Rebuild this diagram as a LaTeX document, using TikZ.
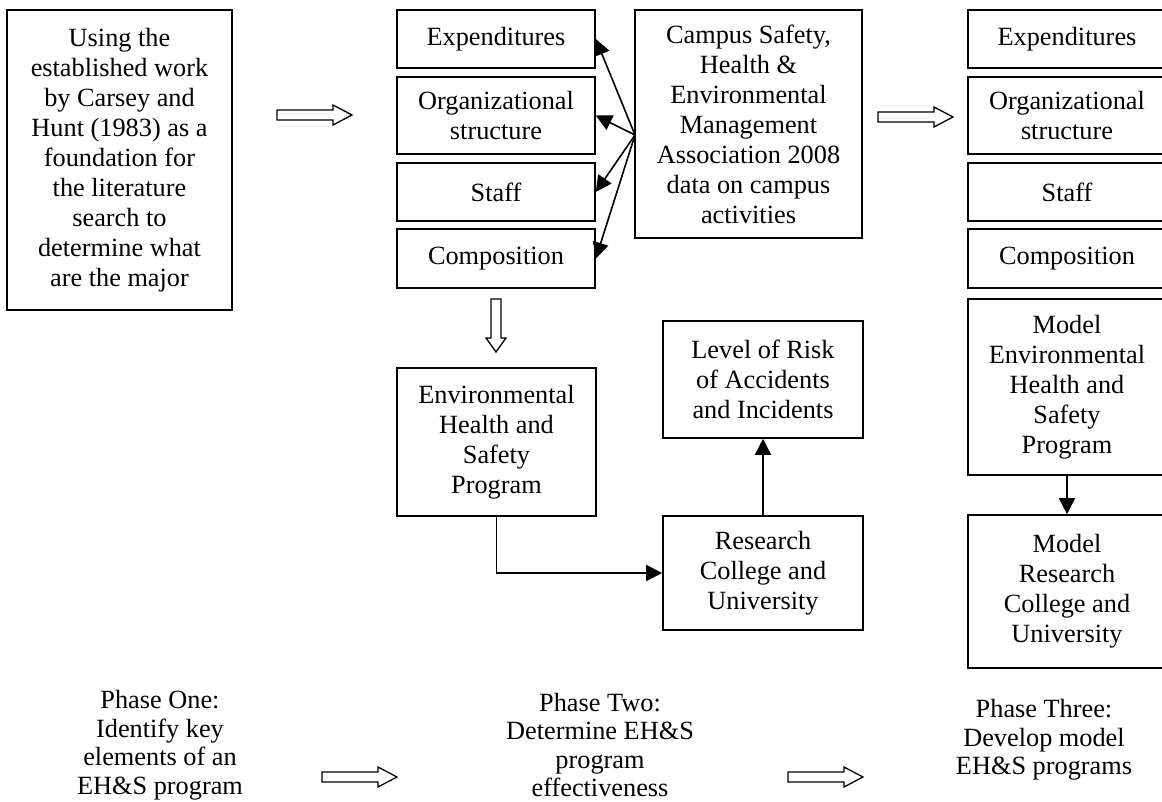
\documentclass[tikz,border=0pt]{standalone}
\usepackage{fontspec}
\setmainfont{Liberation Serif}
\usetikzlibrary{arrows.meta}
\begin{document}
\begin{tikzpicture}[x=1pt,y=-1pt,
  box/.style={draw, line width=1.6pt, align=center, inner sep=0pt,
    font=\fontsize{26.3}{30}\selectfont},
  phase/.style={align=center, inner sep=0pt,
    font=\fontsize{26.3}{28.5}\selectfont},
  arr/.style={line width=1.6pt, -{Triangle[length=16pt,width=16pt]}},
  blockline/.style={draw, line width=1.3pt, line join=miter, fill=white},
  rblock/.pic={\path[blockline] (0,-5) -- (56,-5) -- (56,-10) -- (75,0) -- (56,10) -- (56,5) -- (0,5) -- cycle;}
]
\useasboundingbox (0,0) rectangle (1162,802);

% Phase one: starting point
\node[box, minimum width=225pt, minimum height=300pt] (start) at (119.5,160)
  {Using the\\established work\\by Carsey and\\Hunt (1983) as a\\foundation for\\the literature\\search to\\determine what\\are the major};

% Phase two: key elements
\node[box, minimum width=198pt, minimum height=58pt] (exp) at (496,39) {Expenditures};
\node[box, minimum width=198pt, minimum height=77pt] (org) at (496,115.5) {Organizational\\structure};
\node[box, minimum width=198pt, minimum height=58pt] (staff) at (496,192) {Staff};
\node[box, minimum width=198pt, minimum height=59pt] (comp) at (496,258.5) {Composition};

\node[box, minimum width=227pt, minimum height=228pt] (campus) at (748.5,124)
  {Campus Safety,\\Health \&\\Environmental\\Management\\Association 2008\\data on campus\\activities};

\node[box, minimum width=199pt, minimum height=148pt] (ehs) at (496.5,442)
  {Environmental\\Health and\\Safety\\Program};
\node[box, minimum width=200pt, minimum height=117pt] (risk) at (763,379.5)
  {Level of Risk\\of Accidents\\and Incidents};
\node[box, minimum width=200pt, minimum height=114pt] (res) at (763,573)
  {Research\\College and\\University};

% Phase three: model program
\node[box, minimum width=198pt, minimum height=58pt] (exp3) at (1067,39) {Expenditures};
\node[box, minimum width=198pt, minimum height=77pt] (org3) at (1067,115.5) {Organizational\\structure};
\node[box, minimum width=198pt, minimum height=58pt] (staff3) at (1067,192) {Staff};
\node[box, minimum width=198pt, minimum height=59pt] (comp3) at (1067,258.5) {Composition};
\node[box, minimum width=198pt, minimum height=176pt] (mehs) at (1067,387)
  {Model\\Environmental\\Health and\\Safety\\Program};
\node[box, minimum width=198pt, minimum height=153pt] (mres) at (1067,591.5)
  {Model\\Research\\College and\\University};

% Phase captions
\node[phase] (p1) at (160,745) {Phase One:\\Identify key\\elements of an\\EH\&S program};
\node[phase] (p2) at (600,745) {Phase Two:\\Determine EH\&S\\program\\effectiveness};
\node[phase] (p3) at (1044,740) {Phase Three:\\Develop model\\EH\&S programs};

% Connectors from the survey data to the elements
\coordinate (hub) at (635,135);
\foreach \t in {exp,org,staff,comp}
  \draw[arr] (hub) -- (\t.east);

\draw[arr] (ehs.south) |- (res.west);
\draw[arr] (res.north) -- (risk.south);
\draw[arr] (mehs.south) -- (mres.north);

% Hollow block arrows between the stages
\pic at (277,115) {rblock};
\pic at (878,117) {rblock};
\pic at (322,777) {rblock};
\pic at (788,777) {rblock};
\path[blockline] (491,299) -- (501,299) -- (501,338) -- (506,338) -- (496,352)
  -- (486,338) -- (491,338) -- cycle;
\end{tikzpicture}
\end{document}
